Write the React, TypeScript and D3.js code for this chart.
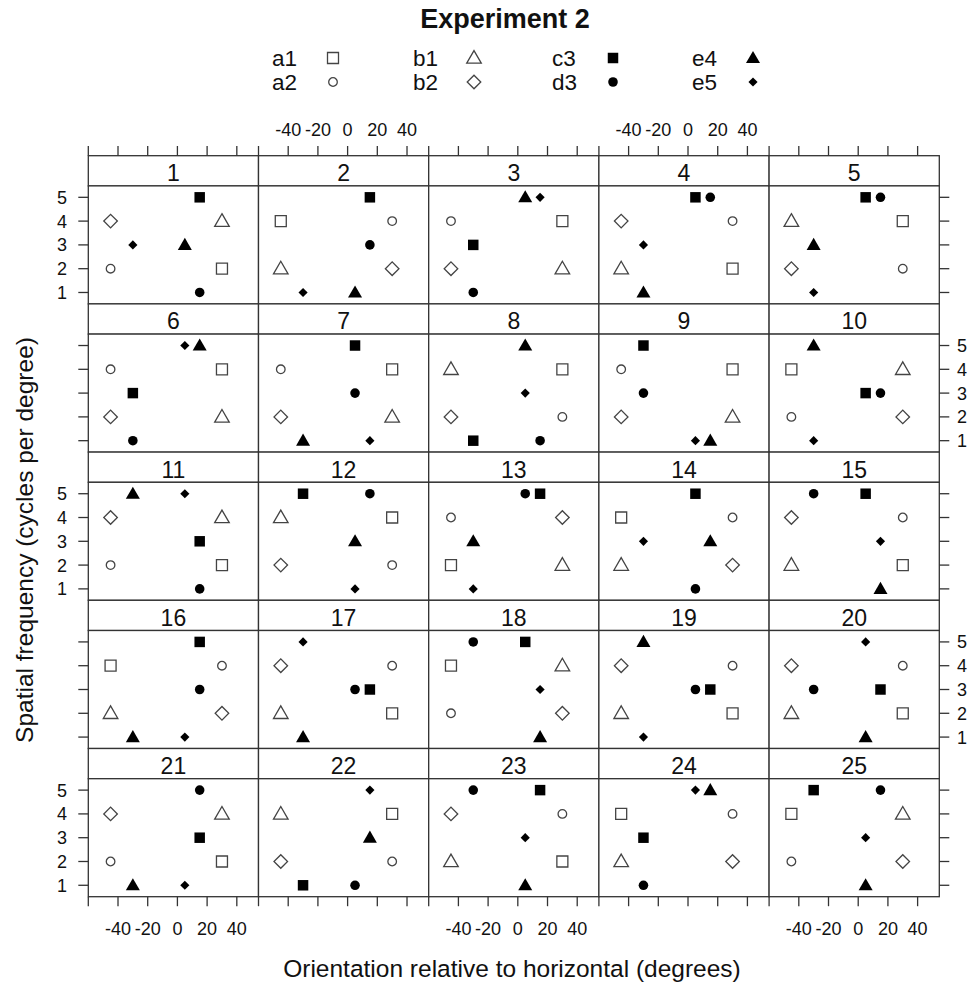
import * as d3 from "d3";

// panel layout (lattice 5 x 5, as.table)
const W = 976;
const H = 988;
const LEFT = 88.3;
const PANEL_W = 170.2;
const TOP = 155.7;
const ROW_H = 148.2;
const STRIP_H = 30.2;
const FONT = "'Liberation Sans', Arial, Helvetica, sans-serif";

const PANELS = d3.range(1, 26);
const X_TICKS = [-60, -40, -20, 0, 20, 40];
const X_LABELS = [-40, -20, 0, 20, 40];
const Y_TICKS = [1, 2, 3, 4, 5];

// orientation (x) and spatial frequency (y) for each stimulus, panels 1..25
const a1X = [30, -45, 30, 30, 30, 30, 30, 30, 30, -45, 30, 30, -45, -45, 30, -45, 30, -45, 30, 30, 30, 30, 30, -45, -45];
const a1Y = [2, 4, 4, 2, 4, 4, 4, 4, 4, 4, 2, 4, 2, 4, 2, 4, 2, 4, 2, 2, 2, 4, 2, 4, 4];
const a2X = [-45, 30, -45, 30, 30, -45, -45, 30, -45, -45, -45, 30, -45, 30, 30, 30, 30, -45, 30, 30, -45, 30, 30, 30, -45];
const a2Y = [2, 4, 4, 4, 2, 4, 4, 2, 4, 2, 2, 2, 4, 4, 4, 4, 4, 2, 4, 4, 2, 2, 4, 4, 2];
const b1X = [30, -45, 30, -45, -45, 30, 30, -45, 30, 30, 30, -45, 30, -45, -45, -45, -45, 30, -45, -45, 30, -45, -45, -45, 30];
const b1Y = [4, 2, 2, 2, 4, 2, 2, 4, 2, 4, 4, 4, 2, 2, 2, 2, 2, 4, 2, 2, 4, 4, 2, 2, 4];
const b2X = [-45, 30, -45, -45, -45, -45, -45, -45, -45, 30, -45, -45, 30, 30, -45, 30, -45, 30, -45, -45, -45, -45, -45, 30, 30];
const b2Y = [4, 2, 2, 4, 2, 2, 2, 2, 2, 2, 4, 2, 4, 2, 4, 2, 4, 2, 4, 4, 4, 2, 4, 2, 2];
const c3X = [15, 15, -30, 5, 5, -30, 5, -30, -30, 5, 15, -30, 15, 5, 5, 15, 15, 5, 15, 15, 15, -30, 15, -30, -30];
const c3Y = [5, 5, 3, 5, 5, 3, 5, 1, 5, 3, 3, 5, 5, 5, 5, 5, 3, 5, 3, 3, 3, 1, 5, 3, 5];
const d3X = [15, 15, -30, 15, 15, -30, 5, 15, -30, 15, 15, 15, 5, 5, -30, 15, 5, -30, 5, -30, 15, 5, -30, -30, 15];
const d3Y = [1, 3, 1, 5, 5, 1, 3, 1, 3, 3, 1, 5, 5, 1, 5, 3, 3, 5, 3, 3, 5, 1, 5, 1, 5];
const e4X = [5, 5, 5, -30, -30, 15, -30, 5, 15, -30, -30, 5, -30, 15, 15, -30, -30, 15, -30, 5, -30, 15, 5, 15, 5];
const e4Y = [3, 1, 5, 1, 3, 5, 1, 5, 1, 5, 5, 3, 3, 3, 1, 1, 1, 1, 5, 1, 1, 3, 1, 5, 1];
const e5X = [-30, -30, 15, -30, -30, 5, 15, 5, 5, -30, 5, 5, -30, -30, 15, 5, -30, 15, -30, 5, 5, 15, 5, 5, 5];
const e5Y = [3, 1, 5, 3, 1, 5, 1, 3, 1, 1, 5, 1, 1, 3, 3, 1, 5, 3, 1, 5, 1, 5, 3, 5, 3];

const SERIES = [
  { key: "a1", xs: a1X, ys: a1Y, shape: "square", filled: false, size: 121 },
  { key: "a2", xs: a2X, ys: a2Y, shape: "circle", filled: false, size: 58 },
  { key: "b1", xs: b1X, ys: b1Y, shape: "triangle", filled: false, size: 92 },
  { key: "b2", xs: b2X, ys: b2Y, shape: "diamond", filled: false, size: 92 },
  { key: "c3", xs: c3X, ys: c3Y, shape: "square", filled: true, size: 110 },
  { key: "d3", xs: d3X, ys: d3Y, shape: "circle", filled: true, size: 72 },
  { key: "e4", xs: e4X, ys: e4Y, shape: "triangle", filled: true, size: 85 },
  { key: "e5", xs: e5X, ys: e5Y, shape: "diamond", filled: true, size: 42 },
];

const symbolTypes: Record<string, d3.SymbolType> = {
  square: d3.symbolSquare,
  circle: d3.symbolCircle,
  triangle: d3.symbolTriangle,
  diamond: d3.symbolSquare,
};

function Marker({ s, x, y }: { s: any; x: number; y: number }) {
  const d = d3.symbol().type(symbolTypes[s.shape]).size(s.size)()!;
  const rot = s.shape === "diamond" ? " rotate(45)" : "";
  const dy = s.shape === "triangle" ? 1 : 0;
  return (
    <path
      d={d}
      transform={`translate(${x},${y + dy})${rot}`}
      fill={s.filled ? "#000" : "none"}
      stroke={s.filled ? "none" : "#444"}
      strokeWidth={1.3}
    />
  );
}

export default function App() {
  const xScale = d3.scaleLinear().domain([-60, 54.6]).range([0, PANEL_W]);
  const yScale = d3.scaleLinear().domain([0.52, 5.48]).range([ROW_H - STRIP_H, 0]);
  const bottom = TOP + 5 * ROW_H;
  const right = LEFT + 5 * PANEL_W;

  const panels = PANELS.map((p, i) => {
    const col = i % 5;
    const row = Math.floor(i / 5);
    const px = LEFT + col * PANEL_W;
    const sy = TOP + row * ROW_H;
    const py = sy + STRIP_H;
    return (
      <g key={p}>
        <rect x={px} y={sy} width={PANEL_W} height={STRIP_H} fill="#fff" stroke="#333" strokeWidth={1.3} />
        <text x={px + PANEL_W / 2} y={sy + 25.5} textAnchor="middle" fontSize={23}>
          {p}
        </text>
        <rect x={px} y={py} width={PANEL_W} height={ROW_H - STRIP_H} fill="#fff" stroke="#333" strokeWidth={1.3} />
        <g transform={`translate(${px},${py})`}>
          {SERIES.map((s) => (
            <Marker key={s.key} s={s} x={xScale(s.xs[i])} y={yScale(s.ys[i])} />
          ))}
        </g>
      </g>
    );
  });

  // x axes: ticks on every column, labels alternate top (2,4) / bottom (1,3,5)
  const xAxes = d3.range(5).map((col) => {
    const px = LEFT + col * PANEL_W;
    const labelTop = col % 2 === 1;
    return (
      <g key={"x" + col} transform={`translate(${px},0)`}>
        {X_TICKS.map((t) => (
          <g key={t}>
            <line x1={xScale(t)} x2={xScale(t)} y1={TOP - 9.7} y2={TOP} stroke="#333" strokeWidth={1.3} />
            <line x1={xScale(t)} x2={xScale(t)} y1={bottom} y2={bottom + 9.5} stroke="#333" strokeWidth={1.3} />
          </g>
        ))}
        {X_LABELS.map((t) => (
          <text
            key={t}
            x={xScale(t)}
            y={labelTop ? 136 : 935}
            textAnchor="middle"
            fontSize={18}
          >
            {t}
          </text>
        ))}
      </g>
    );
  });

  // y axes: ticks on every row, labels alternate left (1,3,5) / right (2,4)
  const yAxes = d3.range(5).map((row) => {
    const py = TOP + row * ROW_H + STRIP_H;
    const labelLeft = row % 2 === 0;
    return (
      <g key={"y" + row} transform={`translate(0,${py})`}>
        {Y_TICKS.map((t) => (
          <g key={t}>
            <line x1={LEFT - 10} x2={LEFT} y1={yScale(t)} y2={yScale(t)} stroke="#333" strokeWidth={1.3} />
            <line x1={right} x2={right + 10} y1={yScale(t)} y2={yScale(t)} stroke="#333" strokeWidth={1.3} />
            <text
              x={labelLeft ? 67 : 957}
              y={yScale(t)}
              dy="0.36em"
              textAnchor={labelLeft ? "end" : "start"}
              fontSize={18}
            >
              {t}
            </text>
          </g>
        ))}
      </g>
    );
  });

  const legendTextX = [272, 413, 552, 692];
  const legendSymX = [333, 474, 613, 753];
  const legendY = [58, 82];
  const legend = SERIES.map((s, i) => {
    const c = Math.floor(i / 2);
    const r = i % 2;
    return (
      <g key={s.key}>
        <text x={legendTextX[c]} y={legendY[r] + 8} fontSize={22.5}>
          {s.key}
        </text>
        <Marker s={s} x={legendSymX[c]} y={legendY[r]} />
      </g>
    );
  });

  return (
    <div style={{ position: "absolute", left: 0, top: 0 }}>
      <svg width={W} height={H} fontFamily={FONT} fill="#111" style={{ display: "block", background: "#fff" }}>
        <text x={505} y={28} textAnchor="middle" fontSize={27} fontWeight="bold">
          Experiment 2
        </text>
        {legend}
        {panels}
        {xAxes}
        {yAxes}
        <text x={512} y={977} textAnchor="middle" fontSize={24.5}>
          Orientation relative to horizontal (degrees)
        </text>
        <text transform="translate(33,540) rotate(-90)" textAnchor="middle" fontSize={24.5}>
          Spatial frequency (cycles per degree)
        </text>
      </svg>
    </div>
  );
}
